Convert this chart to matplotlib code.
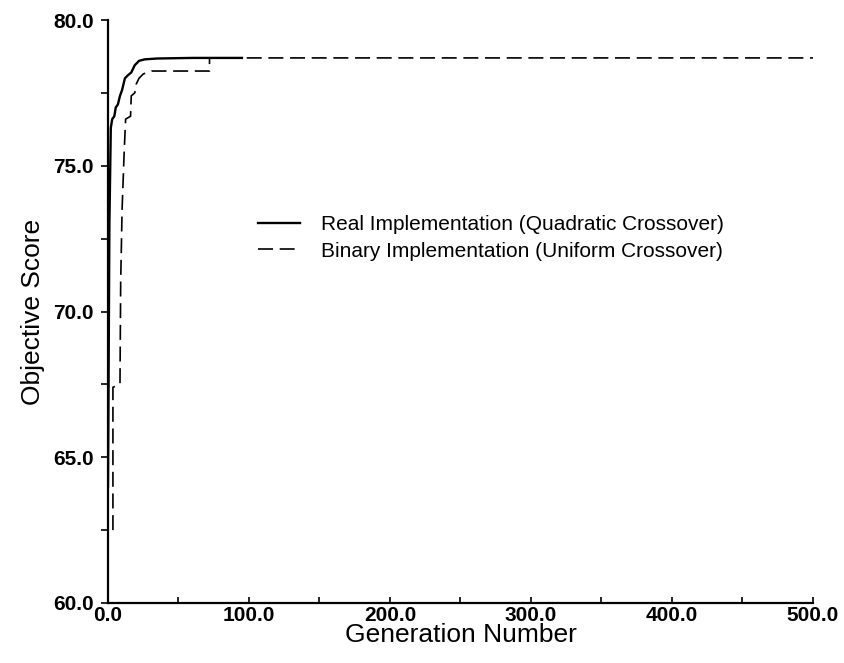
import numpy as np
import matplotlib
matplotlib.use("Agg")
import matplotlib.pyplot as plt
from matplotlib.ticker import MultipleLocator, FormatStrFormatter

plt.rcParams['font.family'] = ['Liberation Sans', 'DejaVu Sans']

# best objective score per generation
real_gen = [0, 1, 2, 3, 4.5, 5.5, 7, 8.5, 10, 12, 14, 16.5, 19, 22, 26, 35, 60, 95]
real_score = [64.0, 73.0, 76.3, 76.6, 76.7, 77.0, 77.1, 77.4, 77.6, 78.0, 78.1,
              78.2, 78.45, 78.6, 78.65, 78.68, 78.7, 78.7]

binary_gen = [3.5, 3.5, 8.5, 9, 10, 11.5, 12.5, 16, 16.5, 19, 20, 22, 25, 31,
              72, 72, 500]
binary_score = [62.5, 67.4, 67.5, 71.0, 73.5, 75.5, 76.6, 76.7, 77.4, 77.5,
                77.8, 78.0, 78.15, 78.25, 78.25, 78.7, 78.7]

labels = ['Real Implementation (Quadratic Crossover)',
          'Binary Implementation (Uniform Crossover)']

fig = plt.figure(figsize=(8.45, 6.63), dpi=100)
ax = fig.add_axes([0.1278, 0.0905, 0.8343, 0.8793])

ax.plot(real_gen, real_score, color='black', lw=1.7, label=labels[0])
ax.plot(binary_gen, binary_score, color='black', lw=1.2,
        linestyle=(0, (9, 4)), label=labels[1])

ax.set_xlim(0, 500)
ax.set_ylim(60, 80)
ax.xaxis.set_major_locator(MultipleLocator(100))
ax.xaxis.set_minor_locator(MultipleLocator(50))
ax.yaxis.set_major_locator(MultipleLocator(5))
ax.yaxis.set_minor_locator(MultipleLocator(2.5))
ax.xaxis.set_major_formatter(FormatStrFormatter('%.1f'))
ax.yaxis.set_major_formatter(FormatStrFormatter('%.1f'))

for s in ['top', 'right']:
    ax.spines[s].set_visible(False)
for s in ['left', 'bottom']:
    ax.spines[s].set_linewidth(1.6)

ax.tick_params(axis='x', which='both', direction='in', length=4, width=1.2,
               labelsize=15, pad=2)
ax.tick_params(axis='y', which='both', direction='out', length=5, width=1.2,
               labelsize=15, pad=5)
for t in ax.get_xticklabels() + ax.get_yticklabels():
    t.set_fontweight('bold')

ax.set_xlabel('Generation Number', fontsize=19, labelpad=-1)
ax.set_ylabel('Objective Score', fontsize=19, labelpad=6)

ax.legend(loc='center left', bbox_to_anchor=(0.2128, 0.626), frameon=False,
          fontsize=15, handlelength=2.0, handletextpad=1.0, labelspacing=0.35,
          borderpad=0, borderaxespad=0)

fig.savefig('out.png', dpi=100)
